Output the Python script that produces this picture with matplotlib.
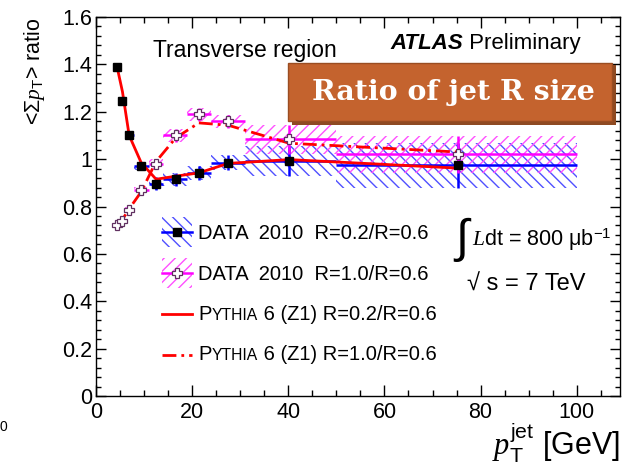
import matplotlib
matplotlib.use('Agg')
import matplotlib.pyplot as plt
from matplotlib.patches import Rectangle
from matplotlib.offsetbox import TextArea, HPacker, AnnotationBbox
from matplotlib.ticker import MultipleLocator
import numpy as np

plt.rcParams['font.family'] = ['Liberation Sans', 'DejaVu Sans']
plt.rcParams['mathtext.fontset'] = 'custom'
plt.rcParams['mathtext.rm'] = 'Liberation Sans'
plt.rcParams['mathtext.it'] = 'Liberation Serif:italic'
plt.rcParams['mathtext.bf'] = 'Liberation Sans:bold'
plt.rcParams['hatch.linewidth'] = 1.0

# ---------------- data ----------------
bin_lo = [4, 5, 6, 8, 11, 14, 19, 24, 31, 50]
bin_hi = [5, 6, 8, 11, 14, 19, 24, 31, 50, 100]
pt_center = [4.45, 5.5, 6.9, 9.4, 12.5, 16.6, 21.4, 27.5, 40.2, 75.3]

data_r02 = [1.387, 1.245, 1.101, 0.970, 0.897, 0.914, 0.942, 0.984, 0.993, 0.975]
data_r02_err = [0.010, 0.010, 0.012, 0.018, 0.028, 0.027, 0.030, 0.032, 0.063, 0.095]
data_r10 = [0.724, 0.740, 0.785, 0.869, 0.979, 1.101, 1.189, 1.160, 1.083, 1.020]
data_r10_err = [0.010, 0.010, 0.012, 0.015, 0.020, 0.028, 0.028, 0.028, 0.060, 0.078]

pythia_r02 = [1.383, 1.285, 1.100, 0.985, 0.915, 0.928, 0.942, 0.982, 0.998, 0.962]
pythia_r10 = [0.720, 0.745, 0.790, 0.862, 0.990, 1.090, 1.153, 1.143, 1.067, 1.030]

legend_labels = ["DATA  2010  R=0.2/R=0.6", "DATA  2010  R=1.0/R=0.6",
                 " 6 (Z1) R=0.2/R=0.6", " 6 (Z1) R=1.0/R=0.6"]

# ---------------- figure ----------------
W_PX, H_PX = 627, 465
fig = plt.figure(figsize=(W_PX / 100, H_PX / 100), dpi=100)
ax_l, ax_r, ax_t, ax_b = 96, 620, 17, 396
ax = fig.add_axes([ax_l / W_PX, 1 - ax_b / H_PX, (ax_r - ax_l) / W_PX, (ax_b - ax_t) / H_PX])


def axfrac(px, py):
    return ((px - ax_l) / (ax_r - ax_l), (ax_b - py) / (ax_b - ax_t))


def figfrac(px, py):
    return (px / W_PX, 1 - py / H_PX)


BLUE = '#0000ff'
MAG = '#ff00ff'
BLUE_H = '#5050ff'
MAG_H = '#ff50ff'
RED = '#ff0000'
SQ_MS = 5.3
CR_MS = 7.0

x = np.array(pt_center)
lo = np.array(bin_lo)
hi = np.array(bin_hi)

# hatched systematic boxes
for l, h, v, e in zip(bin_lo, bin_hi, data_r02, data_r02_err):
    ax.add_patch(Rectangle((l, v - e), h - l, 2 * e, facecolor='none',
                           edgecolor=BLUE_H, hatch='\\\\\\', linewidth=0, zorder=1))
for l, h, v, e in zip(bin_lo, bin_hi, data_r10, data_r10_err):
    ax.add_patch(Rectangle((l, v - e), h - l, 2 * e, facecolor='none',
                           edgecolor=MAG_H, hatch='///', linewidth=0, zorder=1))

ax.errorbar(x, data_r02, xerr=[x - lo, hi - x], yerr=data_r02_err, fmt='none',
            ecolor=BLUE, elinewidth=1.8, capsize=0, zorder=2)
ax.errorbar(x, data_r10, xerr=[x - lo, hi - x], yerr=data_r10_err, fmt='none',
            ecolor=MAG, elinewidth=1.8, capsize=0, zorder=2)

dashdot = (0, (5, 1.8, 1, 1.8))
ax.plot(x, pythia_r02, color=RED, lw=2.0, zorder=3)
ax.plot(x, pythia_r10, color=RED, lw=2.0, linestyle=dashdot, zorder=3)

ax.plot(x, data_r02, 's', color='black', ms=SQ_MS, zorder=4)
ax.plot(x, data_r10, 'P', mfc='white', mec='#603060', mew=0.9, ms=CR_MS, zorder=4)

# axes styling (ROOT-like)
ax.set_xlim(0, 109)
ax.set_ylim(0, 1.6)
ax.xaxis.set_major_locator(MultipleLocator(20))
ax.xaxis.set_minor_locator(MultipleLocator(5))
ax.yaxis.set_major_locator(MultipleLocator(0.2))
ax.yaxis.set_minor_locator(MultipleLocator(0.04))
ax.tick_params(which='both', direction='in', top=True, right=True, labelsize=15.5, width=1.0)
ax.tick_params(axis='x', which='major', length=8, pad=4)
ax.tick_params(axis='x', which='minor', length=4)
ax.tick_params(axis='y', which='major', length=7, pad=3)
ax.tick_params(axis='y', which='minor', length=3.5)
ax.xaxis.set_major_formatter(matplotlib.ticker.FuncFormatter(lambda v, p: f"{v:g}"))
ax.yaxis.set_major_formatter(matplotlib.ticker.FuncFormatter(lambda v, p: f"{v:g}"))
for s in ax.spines.values():
    s.set_linewidth(1.0)

ax.set_xlabel(r"$p_{\mathrm{T}}^{\mathrm{jet}}$ [GeV]", fontsize=22, loc='right')
ax.xaxis.set_label_coords(1.0, -0.066)
ax.xaxis.label.set_va('top')
ax.set_ylabel(r"<$\mathit{\Sigma}$$p_{\mathrm{T}}$> ratio", fontsize=15.5, loc='top')
ax.yaxis.set_label_coords(-0.093, 1.0)

# texts
ax.text(*axfrac(153, 57), "Transverse region", transform=ax.transAxes, fontsize=16.5,
        ha='left', va='baseline')
atlas = ax.text(*axfrac(390, 49), "ATLAS", transform=ax.transAxes, fontsize=16,
                fontweight='bold', fontstyle='italic', ha='left', va='baseline')
ax.annotate(" Preliminary", xy=(1, 0), xycoords=atlas, fontsize=16,
            ha='left', va='bottom')

ax.text(*axfrac(453, 252), r"$\int$", transform=ax.transAxes, fontsize=34,
        ha='left', va='baseline')
ax.text(*axfrac(472, 246), r"$L$dt = 800 $\mathrm{\mu}$b$^{\mathrm{-1}}$", transform=ax.transAxes,
        fontsize=15.5, ha='left', va='baseline')
ax.text(*axfrac(467, 291), "\u221a s = 7 TeV", transform=ax.transAxes,
        fontsize=17, ha='left', va='baseline')

# legend (manual, ROOT-style)
leg_y = [231.7, 272.7, 314, 355]
hx0, hx1 = 162, 192
LEG_FS = 14.5
for i, (yy, hatch, hc, lc) in enumerate([(leg_y[0], '\\\\\\', BLUE_H, BLUE),
                                          (leg_y[1], '///', MAG_H, MAG)]):
    x0, y0 = axfrac(hx0, yy + 15)
    x1, y1 = axfrac(hx1, yy - 15)
    ax.add_patch(Rectangle((x0, y0), x1 - x0, y1 - y0, transform=ax.transAxes,
                           facecolor='none', edgecolor=hc, hatch=hatch, linewidth=0,
                           clip_on=False))
    ax.plot([x0, x1], [axfrac(0, yy)[1]] * 2, transform=ax.transAxes, color=lc,
            lw=1.8, clip_on=False)
    cx, cy = axfrac((hx0 + hx1) / 2, yy)
    if i == 0:
        ax.plot([cx], [cy], 's', color='black', ms=SQ_MS, transform=ax.transAxes, clip_on=False)
    else:
        ax.plot([cx], [cy], 'P', mfc='white', mec='#603060', mew=0.9, ms=CR_MS,
                transform=ax.transAxes, clip_on=False)
    ax.text(*axfrac(198, yy), legend_labels[i], transform=ax.transAxes, fontsize=LEG_FS,
            ha='left', va='center_baseline')

for i, ls in [(2, '-'), (3, dashdot)]:
    yy = leg_y[i]
    x0, fy = axfrac(hx0, yy)
    x1, _ = axfrac(hx1, yy)
    ax.plot([x0, x1], [fy, fy], transform=ax.transAxes, color=RED, lw=2.0,
            linestyle=ls, clip_on=False)
    areas = [TextArea("P", textprops=dict(fontsize=LEG_FS)),
             TextArea("YTHIA", textprops=dict(fontsize=LEG_FS * 0.78)),
             TextArea(legend_labels[i], textprops=dict(fontsize=LEG_FS))]
    box = HPacker(children=areas, align='baseline', pad=0, sep=0)
    ab = AnnotationBbox(box, axfrac(198, yy), xycoords='axes fraction',
                        box_alignment=(0, 0.5), frameon=False, pad=0)
    ax.add_artist(ab)

# orange title box
sx, sy = figfrac(292, 125)
fig.add_artist(Rectangle((sx, sy), 324 / W_PX, 60 / H_PX, transform=fig.transFigure,
                         facecolor='#8e4a22', edgecolor='none', zorder=5))
bx, by = figfrac(288, 121)
fig.add_artist(Rectangle((bx, by), 324 / W_PX, 58 / H_PX, transform=fig.transFigure,
                         facecolor='#c4632e', edgecolor='#9a4d22', linewidth=1.0, zorder=6))
fig.text(*figfrac(453, 93), "Ratio of jet R size", fontsize=20.5, fontweight='bold',
         family='DejaVu Serif', color='white', ha='center', va='center', zorder=7)

# stray clipped label at lower left
fig.text(*figfrac(0, 427), "0", fontsize=10, ha='left', va='center')

fig.savefig('out.png', dpi=100)
